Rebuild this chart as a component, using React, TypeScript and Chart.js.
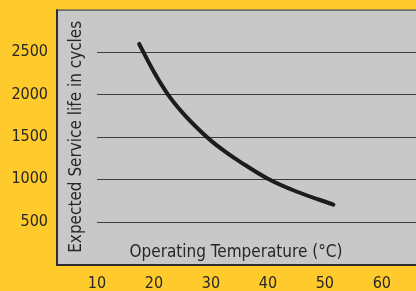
import { useEffect, useRef } from 'react';
import { Chart, registerables } from 'chart.js';

Chart.register(...registerables);

const TEMPS = [17.4, 20, 22.5, 25, 27.5, 30, 32.5, 35, 40, 45, 51.5];
const CYCLES = [2595, 2265, 1995, 1785, 1610, 1455, 1325, 1210, 1005, 855, 700];
const X_TICKS = [10, 20, 30, 40, 50, 60];
const Y_TICKS = [500, 1000, 1500, 2000, 2500];
const X_TITLE = 'Operating Temperature (°C)';
const Y_TITLE = 'Expected Service life in cycles';

const PAGE_BG = '#FFCA2C';
const PLOT_BG = '#C8C8C8';
const GRID = '#3c3c3c';
const BORDER = '#2e2e2e';
const TEXT = '#262626';
const LINE = '#1c1c1c';
const FONT = '"DejaVu Sans Condensed", "Liberation Sans Narrow", "DejaVu Sans", sans-serif';

export default function App() {
  const ref = useRef<HTMLCanvasElement>(null);

  useEffect(() => {
    document.body.style.margin = '0';
    const canvas = ref.current;
    if (!canvas) return;

    const deco = {
      id: 'deco',
      beforeDatasetsDraw(chart: any) {
        const { ctx, chartArea: a, scales } = chart;
        ctx.save();
        ctx.fillStyle = PLOT_BG;
        ctx.fillRect(a.left, a.top, a.right - a.left, a.bottom - a.top);
        ctx.strokeStyle = GRID;
        ctx.lineWidth = 1;
        const x0 = scales.x.getPixelForValue(X_TICKS[0]);
        for (const v of Y_TICKS) {
          const y = Math.round(scales.y.getPixelForValue(v)) + 0.5;
          ctx.beginPath();
          ctx.moveTo(x0, y);
          ctx.lineTo(a.right, y);
          ctx.stroke();
        }
        ctx.strokeStyle = BORDER;
        ctx.lineWidth = 1;
        ctx.beginPath();
        ctx.moveTo(a.left, a.top + 0.5);
        ctx.lineTo(a.right, a.top + 0.5);
        ctx.stroke();
        ctx.lineWidth = 2;
        ctx.beginPath();
        ctx.moveTo(a.left + 1, a.top);
        ctx.lineTo(a.left + 1, a.bottom + 1);
        ctx.lineTo(a.right, a.bottom + 1);
        ctx.stroke();

        ctx.fillStyle = TEXT;
        ctx.font = `17px ${FONT}`;
        ctx.textAlign = 'center';
        ctx.textBaseline = 'alphabetic';
        ctx.fillText(X_TITLE, (a.left + a.right) / 2, a.bottom - 7);
        ctx.save();
        ctx.translate(a.left + 25, (a.top + a.bottom) / 2);
        ctx.rotate(-Math.PI / 2);
        ctx.fillText(Y_TITLE, 0, 0);
        ctx.restore();
        ctx.restore();
      },
    };

    const chart = new Chart(canvas, {
      type: 'line',
      data: {
        datasets: [
          {
            data: TEMPS.map((t, i) => ({ x: t, y: CYCLES[i] })),
            borderColor: LINE,
            borderWidth: 4,
            borderCapStyle: 'round',
            borderJoinStyle: 'round',
            pointRadius: 0,
            fill: false,
            tension: 0.35,
          },
        ],
      },
      options: {
        animation: false,
        responsive: false,
        layout: { padding: { top: 8, right: 0, left: 0, bottom: 0 } },
        plugins: { legend: { display: false }, tooltip: { enabled: false } },
        scales: {
          x: {
            type: 'linear',
            min: 2.8,
            max: 66,
            grid: { display: false },
            border: { display: false },
            afterBuildTicks: (s: any) => {
              s.ticks = X_TICKS.map((v) => ({ value: v }));
            },
            afterFit: (s: any) => {
              s.height = 27;
            },
            ticks: {
              color: TEXT,
              font: { family: FONT, size: 16 },
              padding: 2,
              maxRotation: 0,
              autoSkip: false,
              callback: (v: any) => String(v),
            },
          },
          y: {
            type: 'linear',
            min: 0,
            max: 3000,
            grid: { display: false },
            border: { display: false },
            afterBuildTicks: (s: any) => {
              s.ticks = Y_TICKS.map((v) => ({ value: v }));
            },
            afterFit: (s: any) => {
              s.width = 56;
            },
            ticks: {
              color: TEXT,
              font: { family: FONT, size: 16 },
              padding: 0,
              autoSkip: false,
              callback: (v: any) => String(v),
            },
          },
        },
      },
      plugins: [deco],
    });
    return () => chart.destroy();
  }, []);

  return (
    <div style={{ position: 'absolute', left: 0, top: 0, width: 416, height: 291, background: PAGE_BG }}>
      <canvas ref={ref} width={416} height={291} style={{ width: 416, height: 291, display: 'block' }} />
    </div>
  );
}
